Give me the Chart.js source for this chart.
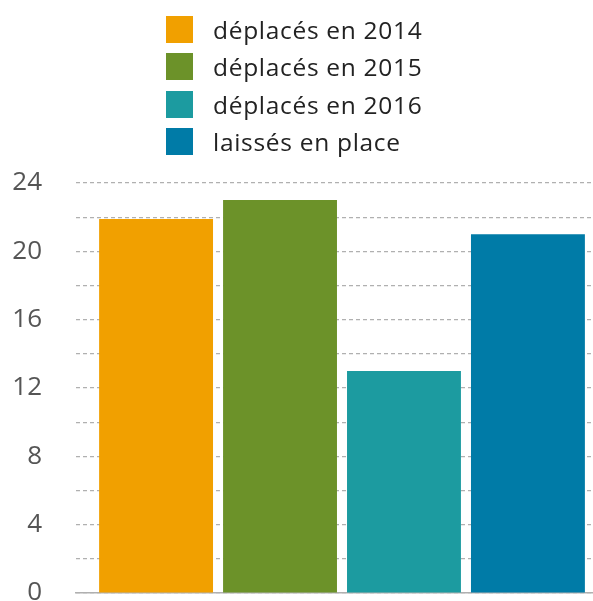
<!DOCTYPE html>
<html>
<head>
<meta charset="utf-8">
<script src="https://cdn.jsdelivr.net/npm/chart.js@4"></script>
<style>
  html, body { margin: 0; padding: 0; width: 593px; height: 601px; overflow: hidden; background: #fff; }
  #wrap { position: relative; width: 593px; height: 601px; }
  #chart { position: absolute; left: 0; top: 0; }
  #legend { position: absolute; left: 166px; top: 10.8px; margin: 0; padding: 0; list-style: none; z-index: 2;
    font-family: "Open Sans", "Noto Sans", sans-serif; font-size: 24.5px; letter-spacing: 0.7px; color: #222; }
  #legend li { display: flex; align-items: center; height: 37.33px; white-space: nowrap; }
  #legend span.box { display: inline-block; width: 27px; height: 27px; margin-right: 20px; }
</style>
</head>
<body>
<div id="wrap">
  <ul id="legend"></ul>
  <canvas id="chart" width="610" height="620" style="width:610px;height:620px"></canvas>
</div>
<script>
const seriesNames = ['déplacés en 2014', 'déplacés en 2015', 'déplacés en 2016', 'laissés en place'];
const seriesValues = [21.9, 23, 13, 21];
const seriesColors = ['#f1a000', '#6c9229', '#1c9ba0', '#007ba7'];
const yTicks = [0, 4, 8, 12, 16, 20, 24];

// html legend built from the chart's own legend items
const htmlLegend = {
	id: 'htmlLegend',
	afterUpdate(chart) {
		const ul = document.getElementById('legend');
		ul.innerHTML = '';
		const items = chart.options.plugins.legend.labels.generateLabels(chart);
		items.forEach(item => {
			const li = document.createElement('li');
			const box = document.createElement('span');
			box.className = 'box';
			box.style.background = item.fillStyle;
			li.appendChild(box);
			li.appendChild(document.createTextNode(item.text));
			ul.appendChild(li);
		});
	}
};

const ctx = document.getElementById('chart').getContext('2d');
const chart = new Chart(ctx, {
	type: 'bar',
	data: {
		labels: [''],
		datasets: seriesNames.map((name, i) => ({
			label: name,
			data: [seriesValues[i]],
			backgroundColor: seriesColors[i],
			borderWidth: 0,
			categoryPercentage: 0.932,
			barPercentage: 0.919
		}))
	},
	options: {
		responsive: false,
		animation: false,
		layout: { padding: { top: 183, bottom: 27, left: 0, right: 2 } },
		plugins: {
			legend: { display: false },
			tooltip: { enabled: false }
		},
		scales: {
			x: {
				grid: { display: false, drawTicks: false },
				ticks: { display: false },
				border: { display: true, color: '#b0b0b0', width: 1.5 }
			},
			y: {
				min: 0,
				max: 24,
				afterFit: (scale) => { scale.width = 76; },
				ticks: {
					stepSize: 2,
					autoSkip: false,
					padding: 0,
					color: '#555',
					font: { family: 'Open Sans', size: 26 },
					callback: (v) => yTicks.includes(v) ? v : ''
				},
				// invisible tick marks keep the labels away from the plot
				grid: { color: '#b0b0b0', lineWidth: 1.2, drawTicks: true, tickLength: 34, tickColor: 'rgba(0,0,0,0)' },
				border: { display: false, dash: [4, 3] }
			}
		}
	},
	plugins: [htmlLegend]
});
</script>
</body>
</html>
